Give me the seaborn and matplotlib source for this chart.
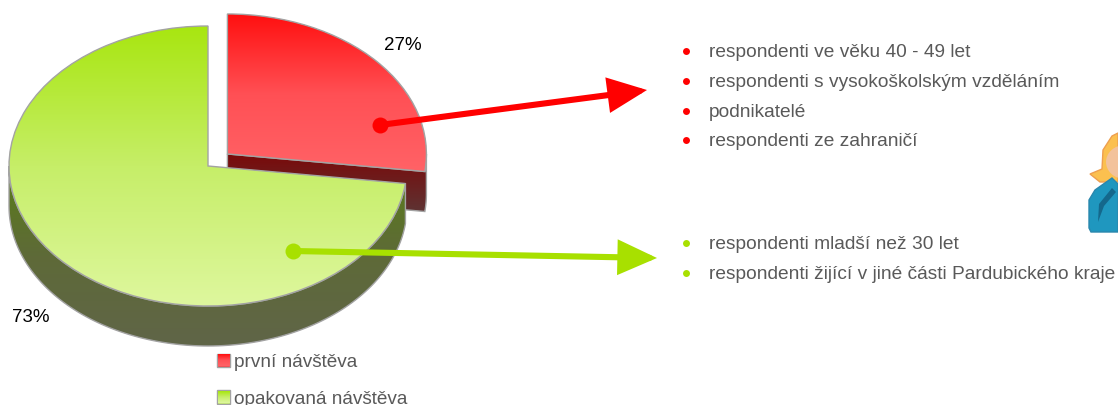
# 3D looking pie of first vs repeat visits, with the respondent groups on the right

import numpy as np
import matplotlib.pyplot as plt
import seaborn as sns
from matplotlib.patches import Ellipse, Patch, Polygon

# Data
labels = ["první návštěva", "opakovaná návštěva"]
shares = [27, 73]
first_visit_groups = [
    "respondenti ve věku 40 - 49 let",
    "respondenti s vysokoškolským vzděláním",
    "podnikatelé",
    "respondenti ze zahraničí",
]
repeat_visit_groups = [
    "respondenti mladší než 30 let",
    "respondenti žijící v jiné části Pardubického kraje",
]

RED = "#ff0000"
GREEN = "#a8e000"
GREY_TEXT = "#595959"
RED_TOP = ["#ff1010", "#ff5055", "#ff6367"]
GREEN_TOP = ["#a8e610", "#c6ee68", "#def79e"]

sns.set_theme(style="white")
plt.rcParams["font.family"] = ["Liberation Sans", "DejaVu Sans"]

W, H = 1118, 405
CX, CY, RX, RY = 208, 166, 199, 140  # pie centre and radii in pixels
DEPTH = 40 / RY

fig = plt.figure(figsize=(W / 100, H / 100), dpi=100)
ax = fig.add_axes([0, 0, 1, 1])


def gradient(colors, wedge_path, top, bottom):
    # vertical gradient clipped to a patch
    cmap = sns.blend_palette(colors, as_cmap=True)
    grad = np.linspace(0, 1, 256)[:, None]
    im = ax.imshow(grad, cmap=cmap, extent=(-1.5, 1.5, bottom, top),
                   aspect="auto", zorder=wedge_path.get_zorder() - 0.1)
    im.set_clip_path(wedge_path)


def rim(wedge, start, end):
    t = np.radians(np.linspace(start, end, 120))
    return np.column_stack([wedge.center[0] + wedge.r * np.cos(t),
                            wedge.center[1] + wedge.r * np.sin(t)])


# Pie top faces, unit circle stretched into an ellipse by the axes limits
wedges, _ = ax.pie(shares, explode=(0.13, 0), startangle=90, counterclock=False,
                   wedgeprops=dict(facecolor="none", edgecolor="#a3a3a3", linewidth=1))
red_top, green_top = wedges
red_top.set_zorder(4)
green_top.set_zorder(8)

# Side wall of the red slice
c = np.array(red_top.center)
edge = rim(red_top, red_top.theta1, 0)
outline = np.vstack([[c], edge, edge[::-1] - [0, DEPTH], [c - [0, DEPTH]]])
red_wall = Polygon(outline, facecolor="none", edgecolor="#a3a3a3", linewidth=1, zorder=2)
ax.add_patch(red_wall)
gradient(["#7a0a0a", "#5c3535"], red_wall, c[1], c[1] - 0.15 - DEPTH)

# Side wall of the green slice
edge = rim(green_top, -180, green_top.theta2)
outline = np.vstack([edge, edge[::-1] - [0, DEPTH]])
green_wall = Polygon(outline, facecolor="none", edgecolor="#a3a3a3", linewidth=1, zorder=6)
ax.add_patch(green_wall)
gradient(["#5a7d18", "#5e6a38", "#606548"], green_wall, 0.0, -1 - DEPTH)

# Gradients on the top faces
gradient(RED_TOP, red_top, red_top.center[1] + 1, red_top.center[1] - 0.15)
gradient(GREEN_TOP, green_top, 1, -1)

ax.set_aspect("auto")
ax.set_xlim(-CX / RX, (W - CX) / RX)
ax.set_ylim((CY - H) / RY, CY / RY)
ax.set_axis_off()

# Overlay in pixel coordinates for the texts and arrows
over = fig.add_axes([0, 0, 1, 1], facecolor="none")
over.set_xlim(0, W)
over.set_ylim(H, 0)
over.set_axis_off()
over.set_autoscale_on(False)

over.text(403, 46, f"{shares[0]}%", fontsize=13.5, color="black", ha="center", va="center")
over.text(31, 317, f"{shares[1]}%", fontsize=13.5, color="black", ha="center", va="center")


def arrow(start, end, color):
    over.annotate("", xy=end, xytext=start,
                  arrowprops=dict(arrowstyle="-|>,head_length=2.1,head_width=0.95",
                                  mutation_scale=10, color=color, lw=4.4,
                                  shrinkA=0, shrinkB=0, joinstyle="miter"))
    over.plot(*start, "o", color=color, markersize=11.5, markeredgewidth=0)


arrow((380, 125), (647, 90), RED)
arrow((293, 251), (657, 258), GREEN)

# Group lists
for group, y in zip(first_visit_groups, [51, 81, 111, 140]):
    over.plot(686, y, "o", color=RED, markersize=5, markeredgewidth=0)
    over.text(709, y + 1.5, group, fontsize=13.8, color=GREY_TEXT, va="center")
for group, y in zip(repeat_visit_groups, [243, 273]):
    over.plot(686, y, "o", color=GREEN, markersize=5, markeredgewidth=0)
    over.text(709, y + 1.5, group, fontsize=13.8, color=GREY_TEXT, va="center")

# Legend
handles = [Patch(facecolor="#ff4045", edgecolor="#a3a3a3"),
           Patch(facecolor="#c9ef70", edgecolor="#a3a3a3")]
leg = over.legend(handles, labels, loc="upper left", bbox_to_anchor=(217 / W, 1 - 354 / H),
                  frameon=False, fontsize=13.7, labelcolor=GREY_TEXT, borderpad=0,
                  borderaxespad=0, handlelength=0.7, handleheight=0.7, handletextpad=0.2,
                  labelspacing=1.0)

# Gradient fill inside the legend squares
fig.canvas.draw()
for patch, colors in zip(leg.get_patches(), [RED_TOP, GREEN_TOP]):
    box = patch.get_window_extent()
    over.imshow(np.linspace(0, 1, 32)[:, None], cmap=sns.blend_palette(colors, as_cmap=True),
                extent=(box.x0 + 1, box.x1 - 1, H - box.y0 - 1, H - box.y1 + 1),
                aspect="auto", zorder=6)

# Small person icon cut off by the right edge
over.add_patch(Polygon([(1090, 174), (1102, 169), (1103, 150), (1112, 136), (1118, 133),
                        (1118, 182), (1100, 182)],
                       facecolor="#fbc04f", edgecolor="#ee9f4f", linewidth=1))
over.add_patch(Ellipse((1125, 162), 38, 34, facecolor="#f3c29b", edgecolor="none"))
over.add_patch(Polygon([(1089, 200), (1095, 190), (1112, 178), (1118, 184), (1118, 232),
                        (1091, 232), (1089, 228)],
                       facecolor="#1f97bf", edgecolor="#2a87ad", linewidth=1))
over.add_patch(Polygon([(1098, 222), (1099, 204), (1112, 188), (1116, 192), (1104, 206)],
                       facecolor="#14688c", edgecolor="none"))

plt.savefig("out.png", dpi=100)
